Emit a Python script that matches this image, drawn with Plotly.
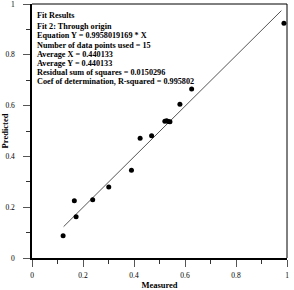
import plotly.graph_objects as go

measured = [0.122, 0.166, 0.173, 0.238, 0.301, 0.390, 0.424, 0.469, 0.521, 0.528, 0.535, 0.541, 0.580, 0.626, 0.988]
predicted = [0.088, 0.225, 0.162, 0.229, 0.280, 0.345, 0.471, 0.481, 0.538, 0.540, 0.537, 0.536, 0.605, 0.665, 0.924]
slope = 0.9958019169
fit_x = [0.124, 0.978]
fit_y = [slope * v for v in fit_x]

tick_vals = [0, 0.2, 0.4, 0.6, 0.8, 1]
tick_text = ["0", "0.2", "0.4", "0.6", "0.8", "1"]

title_line = "Fit Results"
info_lines = [
    "Fit 2: Through origin",
    "Equation Y = 0.9958019169 * X",
    "Number of data points used = 15",
    "Average X = 0.440133",
    "Average Y = 0.440133",
    "Residual sum of squares = 0.0150296",
    "Coef of determination, R-squared = 0.995802",
]

FONT = "Liberation Serif"
TXT = 8.2

fig = go.Figure()
fig.add_trace(go.Scatter(x=fit_x, y=fit_y, mode="lines",
                         line=dict(color="#555555", width=1), hoverinfo="skip"))
fig.add_trace(go.Scatter(x=measured, y=predicted, mode="markers",
                         marker=dict(color="black", size=5)))

annotations = [dict(x=0.014, y=0.955, xref="x", yref="y", text="<b>%s</b>" % title_line,
                    showarrow=False, xanchor="left", yanchor="middle", borderpad=0,
                    font=dict(family=FONT, size=TXT, color="black"))]
y0 = 0.9100
for i, line in enumerate(info_lines):
    annotations.append(dict(x=0.014, y=y0 - i * 0.0358, xref="x", yref="y",
                            text="<b>%s</b>" % line, showarrow=False,
                            xanchor="left", yanchor="middle", borderpad=0,
                            font=dict(family=FONT, size=TXT, color="black")))

axis_common = dict(
    range=[0, 1], tickvals=tick_vals, ticktext=tick_text,
    ticks="outside", ticklen=7, tickwidth=1, tickcolor="#555555",
    showline=True, linecolor="black", linewidth=1.5,
    showgrid=False, zeroline=False, automargin=False,
    ticklabeloverflow="allow",
    tickfont=dict(family=FONT, size=7.5, color="black"),
    minor=dict(ticks="outside", ticklen=4, tickwidth=1, tickcolor="#333333",
               dtick=0.1, tick0=0, showgrid=False),
)

fig.update_layout(
    width=294, height=290,
    margin=dict(l=32, r=7, t=4, b=32, autoexpand=False),
    plot_bgcolor="white", paper_bgcolor="white",
    showlegend=False,
    xaxis=dict(axis_common, ticklabelstandoff=2,
               title=dict(text="<b>Measured</b>", standoff=3,
                          font=dict(family=FONT, size=8.5, color="black"))),
    yaxis=dict(axis_common, ticklabelstandoff=7,
               title=dict(text="<b>Predicted</b>", standoff=2,
                          font=dict(family=FONT, size=8.5, color="black"))),
    annotations=annotations,
    shapes=[
        dict(type="line", xref="paper", yref="paper", x0=0, x1=1, y0=1, y1=1,
             line=dict(color="black", width=1)),
        dict(type="line", xref="paper", yref="paper", x0=1, x1=1, y0=0, y1=1,
             line=dict(color="black", width=1)),
    ],
)

fig.write_html("out.html")
